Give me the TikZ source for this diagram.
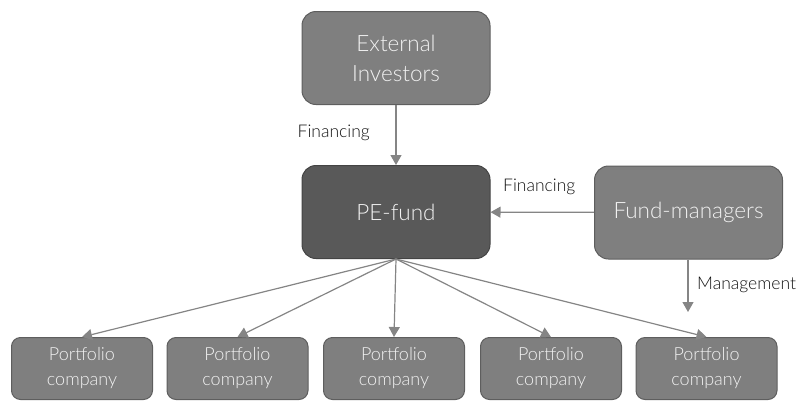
\documentclass[tikz,border=0pt]{standalone}
\usepackage{fontspec}
\setmainfont{Lato}[UprightFont=* Light]
\usetikzlibrary{arrows.meta}
\definecolor{boxgray}{HTML}{7F7F7F}
\definecolor{boxline}{HTML}{5E5E5E}
\definecolor{darkbox}{HTML}{595959}
\definecolor{darkline}{HTML}{444444}
\definecolor{arrowgray}{HTML}{858585}
\definecolor{labeltext}{HTML}{111111}
\begin{document}
\begin{tikzpicture}[x=1pt,y=-1pt,
  bigbox/.style={draw=boxline, fill=boxgray, rounded corners=14pt, line width=1pt,
    minimum width=188pt, minimum height=93pt, inner sep=0pt, align=center,
    text=white!95!black, font=\fontsize{22.5}{30}\selectfont},
  pebox/.style={bigbox, draw=darkline, fill=darkbox},
  portbox/.style={draw=boxline, fill=boxgray, rounded corners=9pt, line width=1pt,
    minimum width=141pt, minimum height=62pt, inner sep=0pt, align=center,
    text=white!95!black, font=\fontsize{18}{25}\selectfont},
  conn/.style={draw=arrowgray, line width=1.2pt, -{Triangle[length=10pt,width=11pt]}},
  lbl/.style={text=labeltext, font=\fontsize{17.5}{19}\selectfont, inner sep=0pt}
]
\useasboundingbox (0,0) rectangle (804,400);
\node[bigbox] (ext) at (396,58) {External\\Investors};
\node[pebox] (pe) at (396,212) {PE-fund};
\node[bigbox] (fm) at (688.5,212.5) {Fund-managers};
\node[portbox] (p1) at (82,368.5) {Portfolio\\company};
\node[portbox] (p2) at (237.5,368.5) {Portfolio\\company};
\node[portbox] (p3) at (394,368.5) {Portfolio\\company};
\node[portbox] (p4) at (551,368.5) {Portfolio\\company};
\node[portbox] (p5) at (706.5,368.5) {Portfolio\\company};
\coordinate (mg) at (688,312);

\draw[conn] (ext) -- (pe);
\draw[conn] (fm) -- (pe);
\draw[conn] (fm.south -| mg) -- (mg);
\foreach \p in {p1,p2,p3,p4,p5} \draw[conn] (pe.south) -- (\p.north);

\node[lbl, anchor=east] (l1) at (370,133) {Financing};
\node[lbl, anchor=west] (l2) at (503,187) {Financing};
\node[lbl, anchor=west] (l3) at (697,285) {Management};
\end{tikzpicture}
\end{document}
